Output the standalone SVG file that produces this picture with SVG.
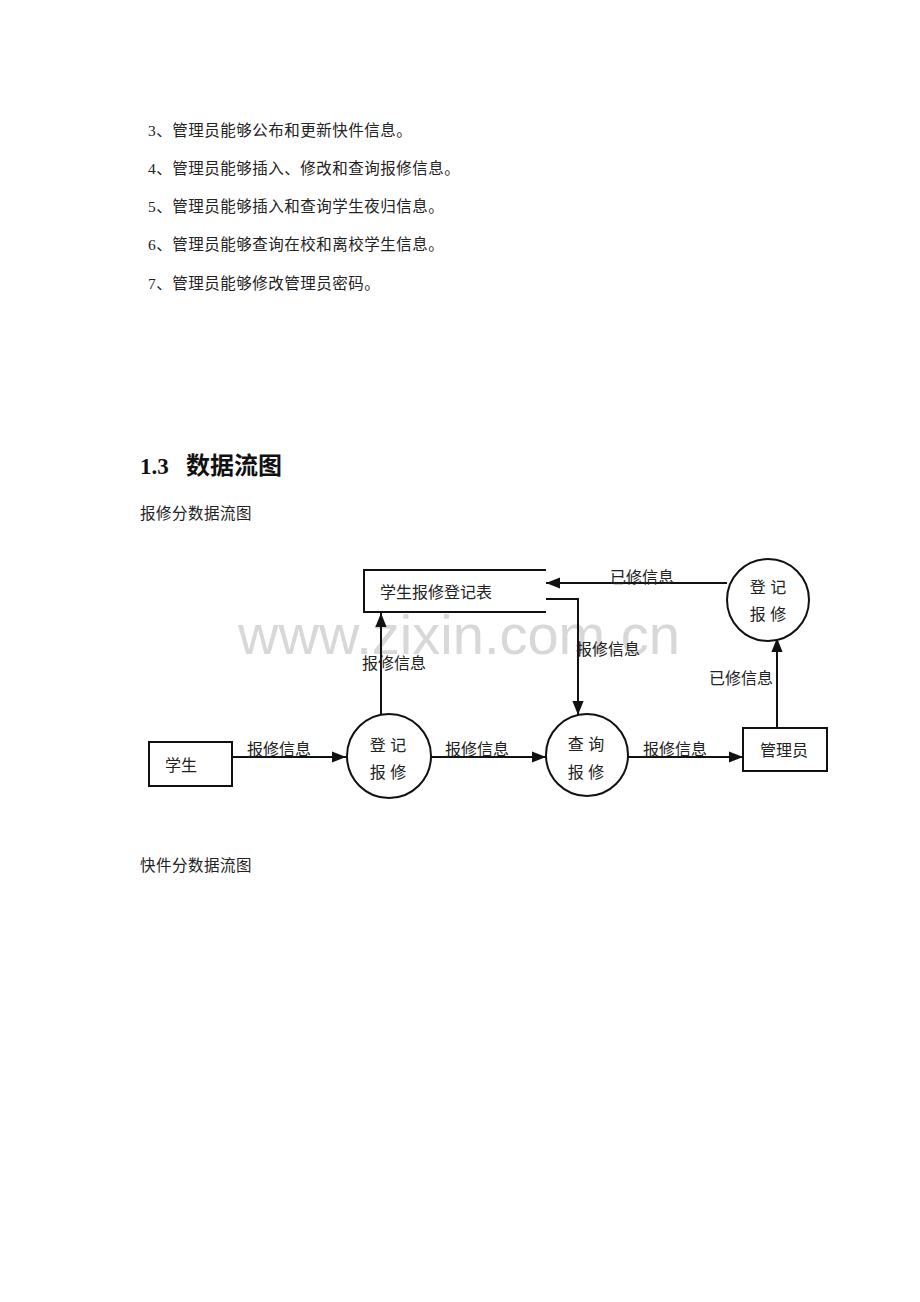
<svg xmlns="http://www.w3.org/2000/svg" width="920" height="1302" viewBox="0 0 920 1302">
<defs>
<style>
.body{font-family:"Liberation Serif","Noto Sans CJK SC",serif;font-size:15.5px;letter-spacing:0.5px;fill:#222;dominant-baseline:central}
.lbl{font-family:"Liberation Sans","Noto Sans CJK SC",sans-serif;font-size:16px;fill:#222;dominant-baseline:central;text-anchor:middle}
.shape{fill:#fff;stroke:#111;stroke-width:2}
.ln{fill:none;stroke:#111;stroke-width:2}
.wm{font-family:"Liberation Sans","DejaVu Sans",sans-serif;font-size:56px;fill:#d8d8d8;dominant-baseline:central;text-anchor:middle}
.h{font-family:"Liberation Serif","Noto Sans CJK SC",serif;font-weight:bold;fill:#111;dominant-baseline:central}
</style>
<marker id="arrb" viewBox="0 0 10 10" refX="10" refY="5" markerWidth="14" markerHeight="14" markerUnits="userSpaceOnUse" orient="auto">
<path d="M0,1 L10,5 L0,9 Z" fill="#111"/>
</marker>
</defs>
<rect width="920" height="1302" fill="#fff"/>
<g id="text">
<text class="body" x="148" y="130">3、管理员能够公布和更新快件信息。</text>
<text class="body" x="148" y="168">4、管理员能够插入、修改和查询报修信息。</text>
<text class="body" x="148" y="206">5、管理员能够插入和查询学生夜归信息。</text>
<text class="body" x="148" y="244">6、管理员能够查询在校和离校学生信息。</text>
<text class="body" x="148" y="283">7、管理员能够修改管理员密码。</text>
<text class="h" x="140" y="466" style="font-size:23px">1.3<tspan x="186" style="font-size:24px">数据流图</tspan></text>
<text class="body" x="140" y="513">报修分数据流图</text>
<text class="body" x="140" y="865">快件分数据流图</text>
</g>
<text class="wm" x="459" y="634">www.zixin.com.cn</text>
<g id="connectors">
<line class="ln" x1="232" y1="757" x2="346" y2="757" marker-end="url(#arrb)"/>
<line class="ln" x1="431" y1="757" x2="546" y2="757" marker-end="url(#arrb)"/>
<line class="ln" x1="628" y1="757" x2="743" y2="757" marker-end="url(#arrb)"/>
<line class="ln" x1="381" y1="716" x2="381" y2="613" marker-end="url(#arrb)"/>
<polyline class="ln" points="546,599 578,599 578,715" marker-end="url(#arrb)"/>
<line class="ln" x1="727" y1="583" x2="546" y2="583" marker-end="url(#arrb)"/>
<line class="ln" x1="777" y1="728" x2="777" y2="638" marker-end="url(#arrb)"/>
<text class="lbl" x="279" y="749">报修信息</text>
<text class="lbl" x="477" y="749">报修信息</text>
<text class="lbl" x="675" y="749">报修信息</text>
<text class="lbl" x="394" y="663">报修信息</text>
<text class="lbl" x="608" y="649">报修信息</text>
<text class="lbl" x="642" y="577">已修信息</text>
<text class="lbl" x="741" y="678">已修信息</text>
</g>
<g id="store">
<path class="ln" d="M546,570 L364,570 L364,612 L546,612"/>
<text class="lbl" x="436" y="592">学生报修登记表</text>
</g>
<g id="student">
<rect class="shape" x="149" y="742" width="83" height="44"/>
<text class="lbl" x="181" y="765">学生</text>
</g>
<g id="register1">
<circle class="shape" cx="389" cy="756" r="42"/>
<text class="lbl" x="388" y="745">登 记</text>
<text class="lbl" x="388" y="772">报 修</text>
</g>
<g id="query">
<circle class="shape" cx="587" cy="755" r="41"/>
<text class="lbl" x="586" y="744">查 询</text>
<text class="lbl" x="586" y="772">报 修</text>
</g>
<g id="admin">
<rect class="shape" x="743" y="728" width="84" height="43"/>
<text class="lbl" x="784" y="750">管理员</text>
</g>
<g id="register2">
<circle class="shape" cx="768" cy="600" r="41"/>
<text class="lbl" x="768" y="587">登 记</text>
<text class="lbl" x="768" y="614">报 修</text>
</g>
</svg>
